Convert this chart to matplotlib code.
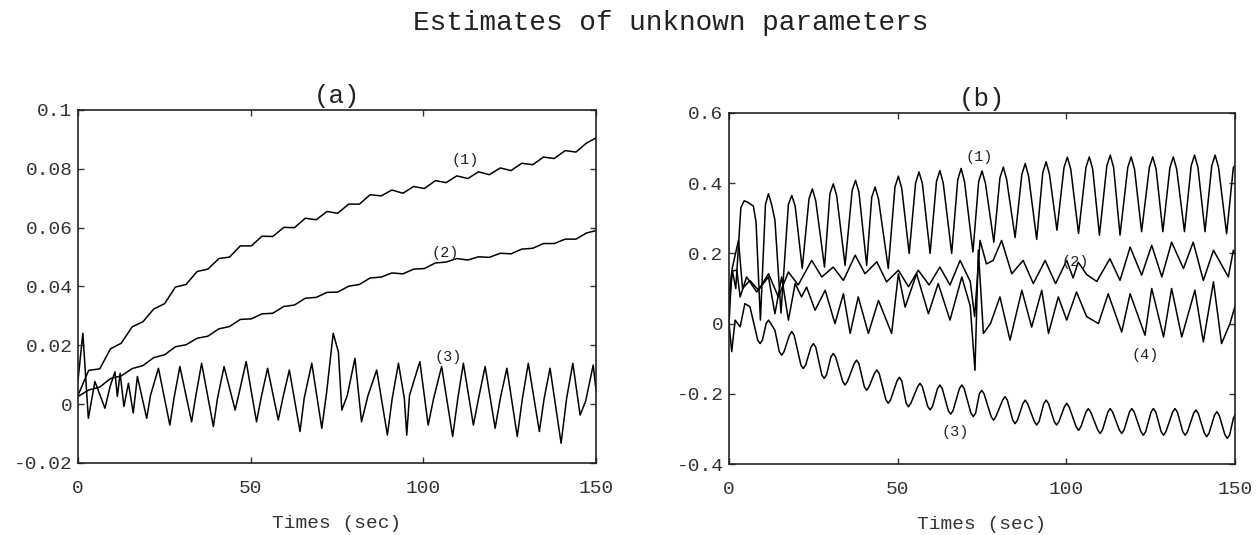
import matplotlib
matplotlib.use("Agg")
import matplotlib.pyplot as plt

plt.rcParams['font.family'] = ['Liberation Mono', 'DejaVu Sans Mono']

# ---------------- data: panel (a) ----------------
a_t = [0, 3.1, 6.3, 9.4, 12.5, 15.7, 18.8, 21.9, 25.1, 28.2, 31.3, 34.5, 37.6, 40.8,
       43.9, 47.0, 50.2, 53.3, 56.4, 59.6, 62.7, 65.8, 69.0, 72.1, 75.2, 78.4, 81.5,
       84.6, 87.8, 90.9, 94.1, 97.2, 100.3, 103.5, 106.6, 109.7, 112.9, 116.0, 119.1,
       122.3, 125.4, 128.5, 131.7, 134.8, 137.9, 141.1, 144.2, 147.3, 150]
a1_v = [0.003, 0.0115, 0.012, 0.0188, 0.0207, 0.0263, 0.028, 0.0323, 0.0342, 0.0398,
        0.0407, 0.0451, 0.0459, 0.0495, 0.050, 0.0538, 0.0538, 0.0571, 0.057, 0.0601,
        0.060, 0.0632, 0.0627, 0.0655, 0.0649, 0.068, 0.068, 0.0712, 0.0708, 0.0728,
        0.0717, 0.074, 0.0733, 0.076, 0.0753, 0.0776, 0.0767, 0.079, 0.078, 0.0803,
        0.0794, 0.0819, 0.0814, 0.084, 0.0835, 0.0862, 0.0857, 0.0888, 0.0905]
a2_v = [0.0026, 0.0048, 0.0058, 0.0087, 0.0096, 0.0121, 0.0131, 0.0158, 0.0168, 0.0195,
        0.0202, 0.0224, 0.0231, 0.0256, 0.0264, 0.0288, 0.029, 0.0307, 0.0309, 0.0332,
        0.0337, 0.036, 0.0363, 0.038, 0.0381, 0.0401, 0.0407, 0.0429, 0.0432, 0.0446,
        0.0443, 0.0459, 0.0461, 0.048, 0.0483, 0.0495, 0.049, 0.0501, 0.0499, 0.0513,
        0.0511, 0.0527, 0.053, 0.0546, 0.0546, 0.0561, 0.0561, 0.0582, 0.059]
a3_t = [0, 1.4, 3.0, 4.9, 7.8, 9.3, 10.7, 11.4, 12.2, 13.3, 14.6, 16.0, 17.2, 19.9,
        21.0, 23.3, 26.6, 27.8, 29.5, 32.9, 34.0, 35.8, 39.2, 40.4, 42.3, 45.5, 46.5,
        48.7, 51.7, 53.0, 54.9, 58.0, 59.3, 61.2, 64.3, 65.5, 67.7, 70.6, 72.0, 73.9,
        75.4, 76.4, 78.0, 80.2, 82.1, 84.0, 86.5, 89.6, 91.0, 92.8, 94.5, 95.2, 96.0,
        99.0, 101.4, 103.0, 105.3, 108.5, 110.0, 111.6, 114.5, 116.0, 117.9, 120.8,
        122.3, 124.2, 127.2, 128.7, 130.4, 133.6, 135.0, 136.7, 139.9, 141.5, 143.3,
        145.4, 147.0, 149.2, 150]
a3_v = [0.008, 0.0241, -0.0048, 0.0077, -0.0014, 0.006, 0.011, 0.0026, 0.0105, -0.0008,
        0.0071, -0.003, 0.0094, -0.0048, 0.003, 0.0122, -0.0071, 0.002, 0.0128, -0.006,
        0.002, 0.0139, -0.0076, 0.002, 0.0128, -0.002, 0.003, 0.0145, -0.006, 0.002,
        0.0122, -0.0054, 0.002, 0.0116, -0.0093, 0.002, 0.0139, -0.0082, 0.004, 0.0241,
        0.0178, -0.002, 0.003, 0.0156, -0.006, 0.003, 0.0116, -0.0105, 0.002, 0.0139,
        0.002, -0.0105, 0.003, 0.0145, -0.0071, 0.002, 0.0128, -0.011, 0.002, 0.0139,
        -0.0071, 0.002, 0.0128, -0.0082, 0.002, 0.0122, -0.011, 0.002, 0.0139, -0.0093,
        0.002, 0.0122, -0.0133, 0.002, 0.0139, -0.0037, 0.001, 0.0133, 0.0048]

# ---------------- data: panel (b) ----------------
b1_t = [0, 1.0, 2.0, 3.5, 4.5, 5.5, 7.2, 8.0, 9.3, 10.8, 11.7, 12.6, 13.6, 15.4,
        17.6, 18.6, 19.6, 21.7, 23.7, 24.7, 25.7, 28.3, 29.9, 30.9, 31.9, 34.4,
        36.5, 37.5, 38.5, 40.8, 42.3, 43.3, 44.3, 47.2, 49.2, 50.2, 51.2, 53.4,
        55.3, 56.3, 57.3, 59.6, 61.5, 62.5, 63.5, 66.0, 67.8, 68.8, 69.8, 72.3,
        74.0, 75.0, 76.0, 78.5, 80.3, 81.3, 82.3, 84.8, 86.8, 87.8, 88.8, 91.2,
        93.0, 94.0, 95.0, 97.2, 99.3, 100.3, 101.3, 103.6, 105.8, 106.8, 107.8, 109.8,
        112.0, 113.0, 114.0, 115.9, 118.2, 119.2, 120.2, 122.3, 124.6, 125.6, 126.6, 128.6,
        130.7, 131.7, 132.7, 135.0, 137.0, 138.0, 139.0, 141.1, 143.1, 144.1, 145.1, 147.5,
        149.5, 150]
b1_v = [0.05, 0.15, 0.10, 0.33, 0.35, 0.346, 0.335, 0.29, 0.01, 0.34, 0.37, 0.34, 0.295, 0.03,
        0.34, 0.365, 0.335, 0.157, 0.355, 0.384, 0.35, 0.161, 0.37, 0.398, 0.365, 0.166,
        0.38, 0.408, 0.375, 0.166, 0.36, 0.389, 0.355, 0.157, 0.39, 0.42, 0.385, 0.2,
        0.40, 0.432, 0.40, 0.2, 0.405, 0.436, 0.40, 0.2, 0.41, 0.442, 0.405, 0.204,
        0.405, 0.435, 0.40, 0.232, 0.415, 0.446, 0.41, 0.245, 0.425, 0.456, 0.42, 0.24,
        0.43, 0.461, 0.425, 0.266, 0.445, 0.474, 0.44, 0.257, 0.445, 0.475, 0.44, 0.252,
        0.45, 0.48, 0.445, 0.252, 0.445, 0.475, 0.44, 0.262, 0.445, 0.475, 0.44, 0.262,
        0.445, 0.475, 0.44, 0.262, 0.45, 0.48, 0.445, 0.262, 0.45, 0.48, 0.445, 0.256,
        0.445, 0.45]
b2_t = [0, 1.0, 2.8, 4.0, 6.2, 8.7, 11.7, 14.6, 17.6, 20.5, 24.5, 27.5, 30.9, 33.9, 37.4,
        40.3, 43.8, 46.7, 50.2, 53.2, 56.1, 59.3, 62.5, 65.5, 68.5, 71.5, 72.8, 74.4,
        76.3, 78.3, 80.8, 83.8, 87.2, 90.2, 93.7, 96.8, 100.1, 102.0, 103.5, 106.0,
        109.0, 112.9, 115.9, 118.9, 122.3, 125.3, 128.3, 131.2, 134.7, 137.6, 140.6,
        143.6, 148.0, 149.5, 150]
b2_v = [0.08, 0.16, 0.237, 0.10, 0.123, 0.095, 0.142, 0.076, 0.147, 0.11, 0.18, 0.133,
        0.161, 0.123, 0.195, 0.142, 0.176, 0.119, 0.152, 0.105, 0.152, 0.11, 0.161, 0.11,
        0.18, 0.12, 0.02, 0.237, 0.17, 0.18, 0.237, 0.142, 0.18, 0.114, 0.18, 0.114, 0.18,
        0.13, 0.175, 0.14, 0.12, 0.185, 0.123, 0.218, 0.138, 0.223, 0.133, 0.232, 0.157,
        0.232, 0.123, 0.209, 0.133, 0.209, 0.2]
b3_t = [0, 0.8, 1.8, 3.3, 4.7, 6.2, 8.5, 9.2, 9.9, 11.0, 11.7, 12.4, 13.6,
        14.9, 15.6, 16.3, 17.9, 18.6, 19.3, 21.3, 22.0, 22.7, 24.3, 25.0, 25.7,
        27.5, 28.2, 28.9, 30.2, 30.9, 31.6, 33.7, 34.4, 35.1, 37.1, 37.8, 38.5,
        40.1, 40.8, 41.5, 43.1, 43.8, 44.5, 46.5, 47.2, 47.9, 49.8, 50.5, 51.2,
        52.5, 53.2, 53.9, 55.9, 56.6, 57.3, 58.9, 59.6, 60.3, 61.8, 62.5, 63.2,
        65.0, 65.7, 66.4, 68.3, 69.0, 69.7, 71.7, 72.4, 73.1, 74.2, 74.9, 75.6,
        77.7, 78.4, 79.1, 81.1, 81.8, 82.5, 84.1, 84.8, 85.5, 87.1, 87.8, 88.5,
        90.5, 91.2, 91.9, 93.3, 94.0, 94.7, 96.4, 97.1, 97.8, 99.4, 100.1, 100.8,
        102.9, 103.6, 104.3, 105.8, 106.5, 107.2, 109.3, 110.0, 110.7, 112.3, 113.0, 113.7,
        115.7, 116.4, 117.1, 118.7, 119.4, 120.1, 122.1, 122.8, 123.5, 125.1, 125.8, 126.5,
        128.1, 128.8, 129.5, 131.5, 132.2, 132.9, 134.5, 135.2, 135.9, 137.7, 138.4, 139.1,
        140.9, 141.6, 142.3, 143.9, 144.6, 145.3, 147.0, 147.7, 148.4, 149.5, 150]
b3_v = [0.0, -0.08, 0.01, -0.009, 0.057, 0.048, -0.047, -0.057, -0.047, 0.0, 0.01, 0.0, -0.019,
        -0.08, -0.09, -0.08, -0.033, -0.023, -0.033, -0.118, -0.128, -0.118, -0.067, -0.057, -0.067,
        -0.146, -0.156, -0.146, -0.095, -0.085, -0.095, -0.165, -0.175, -0.165, -0.114, -0.104, -0.114,
        -0.18, -0.19, -0.18, -0.142, -0.132, -0.142, -0.217, -0.227, -0.217, -0.163, -0.153, -0.163,
        -0.227, -0.237, -0.227, -0.18, -0.17, -0.18, -0.236, -0.246, -0.236, -0.185, -0.175, -0.185,
        -0.248, -0.258, -0.248, -0.185, -0.175, -0.185, -0.255, -0.265, -0.255, -0.2, -0.19, -0.2,
        -0.265, -0.275, -0.265, -0.218, -0.208, -0.218, -0.275, -0.285, -0.275, -0.228, -0.218, -0.228,
        -0.279, -0.289, -0.279, -0.228, -0.218, -0.228, -0.279, -0.289, -0.279, -0.237, -0.227, -0.237,
        -0.294, -0.304, -0.294, -0.252, -0.242, -0.252, -0.303, -0.313, -0.303, -0.252, -0.242, -0.252,
        -0.303, -0.313, -0.303, -0.252, -0.242, -0.252, -0.308, -0.318, -0.308, -0.252, -0.242, -0.252,
        -0.308, -0.318, -0.308, -0.252, -0.242, -0.252, -0.308, -0.318, -0.308, -0.256, -0.246, -0.256,
        -0.312, -0.322, -0.312, -0.261, -0.251, -0.261, -0.317, -0.327, -0.317, -0.27, -0.26]
b4_t = [0, 0.8, 2.3, 3.3, 5.2, 8.2, 11.7, 13.6, 15.6, 17.6, 19.6, 21.5, 23.0, 25.5, 28.5,
        31.4, 33.9, 35.9, 38.3, 41.3, 44.3, 48.2, 50.2, 52.2, 55.6, 59.1, 62.0, 65.5,
        69.0, 71.5, 72.9, 73.9, 75.4, 77.5, 80.3, 83.3, 86.8, 89.7, 92.7, 94.7, 97.6,
        100.1, 103.0, 106.0, 109.5, 112.4, 116.4, 118.9, 123.3, 125.3, 128.8, 131.2,
        134.2, 138.1, 140.6, 143.6, 146.0, 148.5, 150]
b4_v = [0.0, 0.15, 0.152, 0.076, 0.133, 0.09, 0.133, 0.028, 0.133, 0.01, 0.114, 0.076,
        0.104, 0.038, 0.095, 0.0, 0.085, -0.028, 0.076, -0.028, 0.066, -0.028, 0.142,
        0.047, 0.142, 0.028, 0.114, 0.01, 0.133, 0.05, -0.133, 0.209, -0.028, 0.0, 0.076,
        -0.047, 0.095, -0.01, 0.095, -0.028, 0.076, 0.01, 0.09, 0.02, 0.0, 0.085, -0.024,
        0.085, -0.033, 0.1, -0.038, 0.1, -0.038, 0.095, -0.052, 0.119, -0.057, 0.0, 0.05]

# ---------------- ticks / labels ----------------
x_ticks = [0, 50, 100, 150]
x_ticklabels = ['0', '50', '100', '150']
a_yticks = [-0.02, 0, 0.02, 0.04, 0.06, 0.08, 0.1]
a_yticklabels = ['-0.02', '0', '0.02', '0.04', '0.06', '0.08', '0.1']
b_yticks = [-0.4, -0.2, 0, 0.2, 0.4, 0.6]
b_yticklabels = ['-0.4', '-0.2', '0', '0.2', '0.4', '0.6']

a_labels = ['(1)', '(2)', '(3)']
a_label_pos = [(112.1, 0.083), (106.3, 0.0513), (107.2, 0.016)]
b_labels = ['(1)', '(2)', '(3)', '(4)']
b_label_pos = [(74.2, 0.475), (102.6, 0.176), (67.0, -0.308), (123.3, -0.09)]

fig = plt.figure(figsize=(12.6, 5.35), dpi=100)
fig.patch.set_facecolor('white')

axa = fig.add_axes([0.0619, 0.1346, 0.4111, 0.6598])
axb = fig.add_axes([0.5786, 0.1327, 0.4016, 0.6561])

lw = 1.1
axa.plot(a_t, a1_v, color='black', lw=lw)
axa.plot(a_t, a2_v, color='black', lw=lw)
axa.plot(a3_t, a3_v, color='black', lw=lw)

axb.plot(b1_t, b1_v, color='black', lw=lw)
axb.plot(b2_t, b2_v, color='black', lw=lw)
axb.plot(b3_t, b3_v, color='black', lw=lw)
axb.plot(b4_t, b4_v, color='black', lw=lw)

for lab, (tx, ty) in zip(a_labels, a_label_pos):
    axa.text(tx, ty, lab, fontsize=11, ha='center', va='center', color='#222222')
for lab, (tx, ty) in zip(b_labels, b_label_pos):
    axb.text(tx, ty, lab, fontsize=11, ha='center', va='center', color='#222222')

for ax, yt, ytl, ylim, title in [
        (axa, a_yticks, a_yticklabels, (-0.02, 0.1), '(a)'),
        (axb, b_yticks, b_yticklabels, (-0.4, 0.6), '(b)')]:
    ax.set_xlim(0, 150)
    ax.set_ylim(*ylim)
    ax.set_xticks(x_ticks)
    ax.set_xticklabels(x_ticklabels)
    ax.set_yticks(yt)
    ax.set_yticklabels(ytl)
    ax.tick_params(direction='in', top=True, right=True, length=4, width=1,
                   labelsize=14, colors='#333333')
    ax.tick_params(axis='x', pad=12)
    ax.tick_params(axis='y', pad=4)
    for s in ax.spines.values():
        s.set_linewidth(1.2)
        s.set_color('#222222')
    ax.set_xlabel('Times (sec)', fontsize=14, color='#333333', labelpad=13)
    ax.set_title(title, fontsize=18.5, color='#222222', pad=5)

fig.text(0.532, 0.957, 'Estimates of unknown parameters', ha='center', va='center',
         fontsize=20, color='#222222')

fig.savefig('out.png', dpi=100)
